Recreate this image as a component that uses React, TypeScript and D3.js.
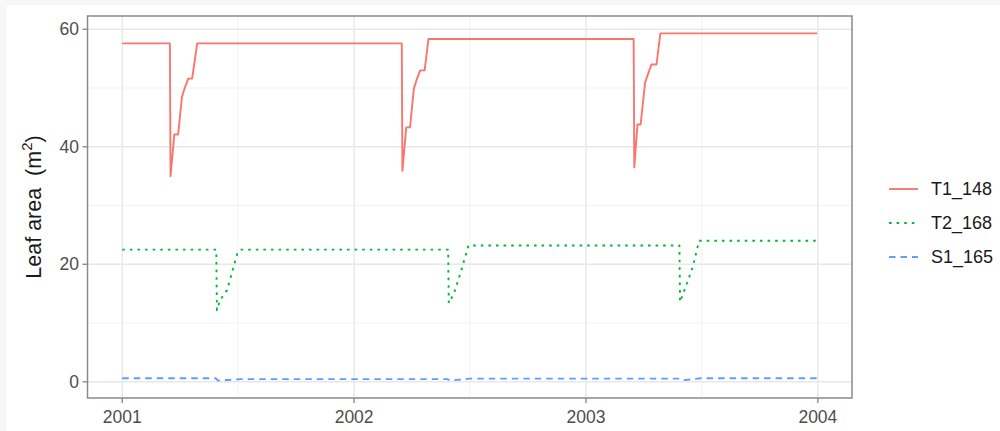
import React from "react";
import * as d3 from "d3";

// Leaf area per tree over three growing seasons
const seriesNames = ["T1_148", "T2_168", "S1_165"];
const seriesColors = ["#F8766D", "#00BA38", "#619CFF"];
const seriesDash = ["none", "2.6,5", "6.5,5"];

const t1Dates = [
  "2001-01-01", "2001-03-17", "2001-03-18", "2001-03-24", "2001-03-30", "2001-04-05",
  "2001-04-10", "2001-04-15", "2001-04-21", "2001-04-29",
  "2002-03-17", "2002-03-18", "2002-03-24", "2002-03-30", "2002-04-05",
  "2002-04-10", "2002-04-15", "2002-04-22", "2002-04-28",
  "2003-03-17", "2003-03-18", "2003-03-23", "2003-03-28", "2003-04-04",
  "2003-04-09", "2003-04-14", "2003-04-22", "2003-04-28", "2003-12-31",
];
const t1Values = [
  57.6, 57.6, 35.0, 42.1, 42.1, 48.5, 50.2, 51.6, 51.6, 57.6,
  57.6, 35.9, 43.3, 43.3, 49.9, 51.6, 53.0, 53.0, 58.35,
  58.35, 36.5, 43.8, 43.8, 50.9, 52.5, 54.0, 54.0, 59.3, 59.3,
];

const t2Dates = [
  "2001-01-01", "2001-05-29", "2001-05-30", "2001-06-04", "2001-06-15",
  "2001-06-23", "2001-07-01", "2001-07-06",
  "2002-05-29", "2002-05-30", "2002-06-07", "2002-06-18", "2002-06-30",
  "2003-05-28", "2003-05-29", "2003-06-05", "2003-06-18", "2003-06-28", "2003-12-31",
];
const t2Values = [
  22.5, 22.5, 12.2, 13.9, 15.6, 18.7, 21.8, 22.5,
  22.5, 13.4, 15.0, 18.7, 23.2,
  23.2, 13.6, 15.6, 19.5, 24.0, 24.0,
];

const s1Dates = [
  "2001-01-01", "2001-05-28", "2001-06-01", "2001-06-15", "2001-07-06",
  "2002-05-28", "2002-06-01", "2002-07-01",
  "2003-05-28", "2003-06-01", "2003-07-01", "2003-12-31",
];
const s1Values = [
  0.6, 0.6, 0.2, 0.3, 0.45,
  0.45, 0.2, 0.55,
  0.55, 0.25, 0.6, 0.6,
];

const xTickLabels = ["2001", "2002", "2003", "2004"];
const yTickValues = [0, 20, 40, 60];
const yMinorValues = [10, 30, 50];

type Pt = { date: Date; value: number };

function toPoints(dates: string[], values: number[]): Pt[] {
  return dates.map((d, i) => ({ date: new Date(d + "T00:00:00"), value: values[i] }));
}

const series: Pt[][] = [
  toPoints(t1Dates, t1Values),
  toPoints(t2Dates, t2Values),
  toPoints(s1Dates, s1Values),
];

export default function App() {
  const W = 1000;
  const H = 431;
  const panel = { left: 87.5, right: 852, top: 16, bottom: 398 };

  const all = series.flat();
  const [xMin, xMax] = d3.extent(all, (d) => d.date.getTime()) as [number, number];
  const [yMin, yMax] = d3.extent(all, (d) => d.value) as [number, number];
  const xPad = (xMax - xMin) * 0.05;
  const yPad = (yMax - yMin) * 0.05;

  const x = d3
    .scaleTime()
    .domain([new Date(xMin - xPad), new Date(xMax + xPad)])
    .range([panel.left, panel.right]);
  const y = d3
    .scaleLinear()
    .domain([yMin - yPad, yMax + yPad])
    .range([panel.bottom, panel.top]);

  const xTicks = xTickLabels.map((l) => new Date(`${l}-01-01T00:00:00`));
  const xMinor = xTicks.slice(0, -1).map((d) => new Date(`${d.getFullYear()}-07-02T12:00:00`));

  const line = d3
    .line<Pt>()
    .x((d) => x(d.date))
    .y((d) => y(d.value));

  const font = "'Liberation Sans', Arial, sans-serif";
  const tickColor = "#4d4d4d";
  const borderColor = "#8a8a8a";
  const legendY = [189, 223, 257];

  return (
    <svg
      width={W}
      height={H}
      style={{ position: "fixed", left: 0, top: 0, display: "block" }}
      fontFamily={font}
    >
      <rect x={0} y={0} width={W} height={H} fill="#f6f7f9" />
      <rect x={7} y={5} width={W - 7} height={H - 5} fill="#ffffff" />

      <clipPath id="panel-clip">
        <rect
          x={panel.left}
          y={panel.top}
          width={panel.right - panel.left}
          height={panel.bottom - panel.top}
        />
      </clipPath>

      {/* minor grid */}
      {yMinorValues.map((v) => (
        <line key={"ym" + v} x1={panel.left} x2={panel.right} y1={y(v)} y2={y(v)} stroke="#f2f2f2" strokeWidth={0.9} />
      ))}
      {xMinor.map((d, i) => (
        <line key={"xm" + i} x1={x(d)} x2={x(d)} y1={panel.top} y2={panel.bottom} stroke="#f2f2f2" strokeWidth={0.9} />
      ))}
      {/* major grid */}
      {yTickValues.map((v) => (
        <line key={"y" + v} x1={panel.left} x2={panel.right} y1={y(v)} y2={y(v)} stroke="#e8e8e8" strokeWidth={1.4} />
      ))}
      {xTicks.map((d, i) => (
        <line key={"x" + i} x1={x(d)} x2={x(d)} y1={panel.top} y2={panel.bottom} stroke="#e8e8e8" strokeWidth={1.4} />
      ))}

      {/* series */}
      <g clipPath="url(#panel-clip)">
        {series.map((pts, i) => (
          <path
            key={seriesNames[i]}
            d={line(pts) || ""}
            fill="none"
            stroke={seriesColors[i]}
            strokeWidth={1.9}
            strokeDasharray={seriesDash[i]}
            strokeLinejoin="round"
          />
        ))}
      </g>

      {/* panel border */}
      <rect
        x={panel.left}
        y={panel.top}
        width={panel.right - panel.left}
        height={panel.bottom - panel.top}
        fill="none"
        stroke={borderColor}
        strokeWidth={1.5}
      />

      {/* y axis */}
      {yTickValues.map((v) => (
        <g key={"yt" + v}>
          <line x1={panel.left - 5} x2={panel.left} y1={y(v)} y2={y(v)} stroke={borderColor} strokeWidth={1.4} />
          <text
            x={panel.left - 8.5}
            y={y(v)}
            textAnchor="end"
            dominantBaseline="central"
            fontSize={17.5}
            fill={tickColor}
          >
            {v}
          </text>
        </g>
      ))}

      {/* x axis */}
      {xTicks.map((d, i) => (
        <g key={"xt" + i}>
          <line x1={x(d)} x2={x(d)} y1={panel.bottom} y2={panel.bottom + 5} stroke={borderColor} strokeWidth={1.4} />
          <text x={x(d)} y={panel.bottom + 24.5} textAnchor="middle" fontSize={17.5} fill={tickColor}>
            {xTickLabels[i]}
          </text>
        </g>
      ))}

      {/* y axis title */}
      <text
        transform={`translate(40.5, ${(panel.top + panel.bottom) / 2}) rotate(-90)`}
        textAnchor="middle"
        fontSize={21.5}
        fill="#1a1a1a"
        xmlSpace="preserve"
      >
        {"Leaf area  (m"}
        <tspan fontSize={15} dy={-9}>2</tspan>
        <tspan dy={9}>)</tspan>
      </text>

      {/* legend */}
      {seriesNames.map((name, i) => (
        <g key={"lg" + name}>
          <line
            x1={889}
            x2={918}
            y1={legendY[i]}
            y2={legendY[i]}
            stroke={seriesColors[i]}
            strokeWidth={1.9}
            strokeDasharray={seriesDash[i]}
          />
          <text x={931} y={legendY[i]} dominantBaseline="central" fontSize={18} fill="#1a1a1a">
            {name}
          </text>
        </g>
      ))}
    </svg>
  );
}
